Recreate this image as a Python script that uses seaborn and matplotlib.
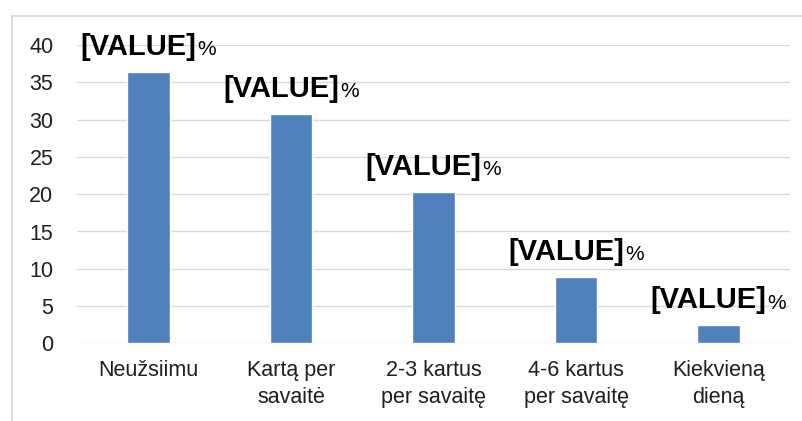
import matplotlib
matplotlib.use("Agg")
import matplotlib.pyplot as plt
from matplotlib.lines import Line2D
import seaborn as sns
import pandas as pd

# Survey: how often respondents do the activity
categories = ["Neužsiimu", "Kartą per\nsavaitė", "2-3 kartus\nper savaitę",
              "4-6 kartus\nper savaitę", "Kiekvieną\ndieną"]
shares = [36.4, 30.8, 20.3, 8.9, 2.4]
y_ticks = [0, 5, 10, 15, 20, 25, 30, 35, 40]
label_main = "[VALUE]"
label_unit = "%"

sns.set_theme(style="white")
plt.rcParams["font.family"] = ["Liberation Sans", "DejaVu Sans"]

W, H = 803, 421
fig = plt.figure(figsize=(W / 100, H / 100), dpi=100)
ax = fig.add_axes([77 / W, 1 - 343.4 / H, (790 - 77) / W, (343.4 - 45) / H])

df = pd.DataFrame({"category": categories, "share": shares})
sns.barplot(data=df, x="category", y="share", color="#4f81bd", saturation=1,
            width=0.3, ax=ax, zorder=3)

ax.set_xlim(-0.5, len(categories) - 0.5)
ax.set_ylim(0, 40)
ax.set_yticks(y_ticks)
ax.set_xlabel("")
ax.set_ylabel("")
ax.grid(axis="y", color="#d9d9d9", linewidth=1.0, zorder=0)
ax.set_axisbelow(True)
for s in ax.spines.values():
    s.set_visible(False)
ax.tick_params(axis="y", length=0, pad=17, labelsize=15.5, labelcolor="#1f1f1f")
ax.tick_params(axis="x", length=0, pad=12, labelsize=15.5, labelcolor="#1f1f1f")
for t in ax.get_xticklabels():
    t.set_linespacing(1.4)

# Data labels: bold placeholder followed by a smaller percent sign
fig.canvas.draw()
for i, v in enumerate(shares):
    main = ax.annotate(label_main, xy=(i, v), xytext=(-10, 17),
                       textcoords="offset pixels", ha="center", va="baseline",
                       fontsize=21, fontweight="bold", color="#000000", zorder=5)
    ax.annotate(label_unit, xy=(1, 0), xycoords=main, xytext=(1, 1.7),
                textcoords="offset pixels", ha="left", va="bottom",
                fontsize=15, color="#000000", zorder=5)

# Chart-area frame (left and top edges)
fig.add_artist(Line2D([12 / W, 12 / W], [0, 1 - 16 / H], transform=fig.transFigure,
                      color="#d9d9d9", linewidth=1.3))
fig.add_artist(Line2D([12 / W, 1], [1 - 16 / H, 1 - 16 / H], transform=fig.transFigure,
                      color="#d9d9d9", linewidth=1.3))

fig.savefig("out.png", dpi=100, facecolor="white")
